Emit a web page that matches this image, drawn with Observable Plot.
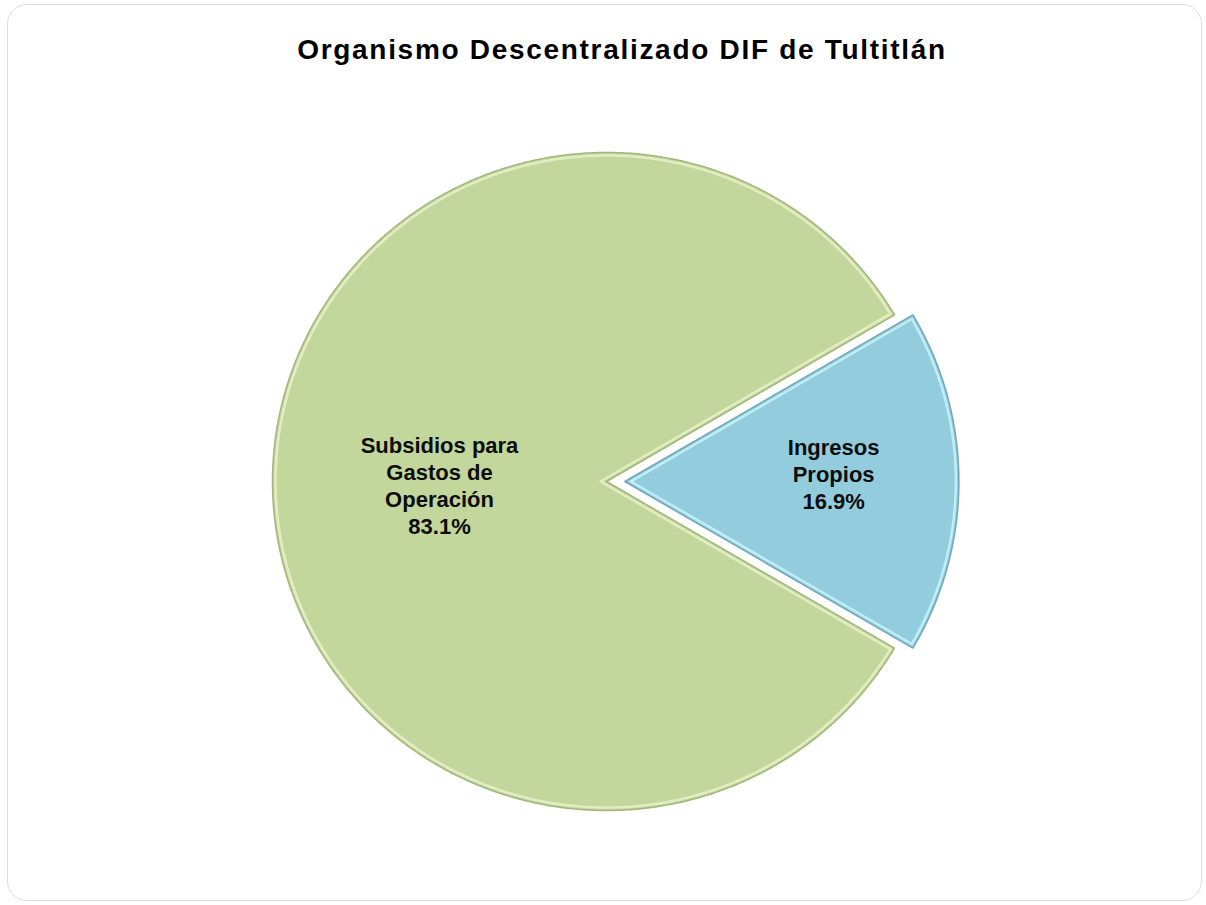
<!DOCTYPE html>
<html><head><meta charset="utf-8">
<script src="https://cdn.jsdelivr.net/npm/d3@7"></script>
<script src="https://cdn.jsdelivr.net/npm/@observablehq/plot@0.6"></script>
<style>
body{margin:0;background:#fff;font-family:"Liberation Sans",Arial,sans-serif;}
#wrap{position:relative;width:1206px;height:905px;overflow:hidden;background:#fff;}
#frame{position:absolute;left:7px;top:4px;width:1195px;height:897px;border:1.5px solid #dcdcdc;border-radius:20px;box-sizing:border-box;}
#title{position:absolute;left:19px;top:34px;width:1206px;text-align:center;font-weight:bold;font-size:28px;line-height:32px;color:#000;letter-spacing:1.7px;}
#chart{position:absolute;left:0;top:95px;}
</style></head><body>
<div id="wrap"><div id="frame"></div><div id="title">Organismo Descentralizado DIF de Tultitlán</div><div id="chart"></div></div>
<script>
// ---- data ----
const categories = ["Ingresos Propios", "Subsidios para Gastos de Operación"];
const shares = [16.9, 83.1];
const labels = ["Ingresos\nPropios\n16.9%", "Subsidios para\nGastos de\nOperación\n83.1%"];

// ---- styles / layout ----
const fills = ["#93cddd", "#c3d69b"];
const edges = ["#73a6b7", "#a3b67c"];
const highlights = ["#bfeef8", "#e2edc4"];
const explode = [0.055, 0];
const labelRadius = [0.68, 0.5];
const W = 1206, H = 800, cx = 606, cy = 386, rx = 334, ry = 329;

const total = d3.sum(shares);
const a0 = Math.PI / 2 - Math.PI * shares[0] / total;
const arcs = d3.pie().sort(null).startAngle(a0).endAngle(a0 + 2 * Math.PI)(shares);

function slicePoints(i, inset) {
  const a = arcs[i];
  const mid = (a.startAngle + a.endAngle) / 2;
  const half = (a.endAngle - a.startAngle) / 2;
  const ox = explode[i] * Math.sin(mid), oy = explode[i] * Math.cos(mid);
  const apexShift = inset / Math.sin(half);
  const pts = [{key: categories[i], x: ox + apexShift * Math.sin(mid), y: oy + apexShift * Math.cos(mid)}];
  const r = 1 - inset;
  const da = inset / r;
  const s = a.startAngle + da, e = a.endAngle - da;
  const n = Math.ceil((e - s) / (Math.PI / 360));
  for (let k = 0; k <= n; k++) {
    const t = s + (e - s) * k / n;
    pts.push({key: categories[i], x: ox + r * Math.sin(t), y: oy + r * Math.cos(t)});
  }
  return pts;
}

const labelData = arcs.map((a, i) => {
  const mid = (a.startAngle + a.endAngle) / 2;
  return {key: categories[i], text: labels[i], x: labelRadius[i] * Math.sin(mid), y: labelRadius[i] * Math.cos(mid) + (i === 0 ? 0.025 : -0.01)};
});

const marks = [];
categories.forEach((c, i) => {
  marks.push(Plot.line(slicePoints(i, 0), {x: "x", y: "y", fill: "key", stroke: edges[i], strokeWidth: 1.5, curve: "linear-closed"}));
  marks.push(Plot.line(slicePoints(i, 0.009), {x: "x", y: "y", fill: "none", stroke: highlights[i], strokeWidth: 2.5, curve: "linear-closed"}));
  marks.push(Plot.line(slicePoints(i, 0.02), {x: "x", y: "y", fill: "key", stroke: "none", curve: "linear-closed"}));
});
marks.push(Plot.text(labelData, {x: "x", y: "y", text: "text", fontSize: 22, fontWeight: "bold", lineHeight: 1.23, fill: "#0d0d0d", fontFamily: "Liberation Sans, Arial, sans-serif"}));

const chart = Plot.plot({
  width: W, height: H,
  margin: 0,
  x: {domain: [-cx / rx, (W - cx) / rx], axis: null},
  y: {domain: [-(H - cy) / ry, cy / ry], axis: null},
  color: {domain: categories, range: fills},
  style: {background: "transparent", overflow: "visible"},
  marks
});
document.getElementById("chart").appendChild(chart);
</script>
</body></html>
